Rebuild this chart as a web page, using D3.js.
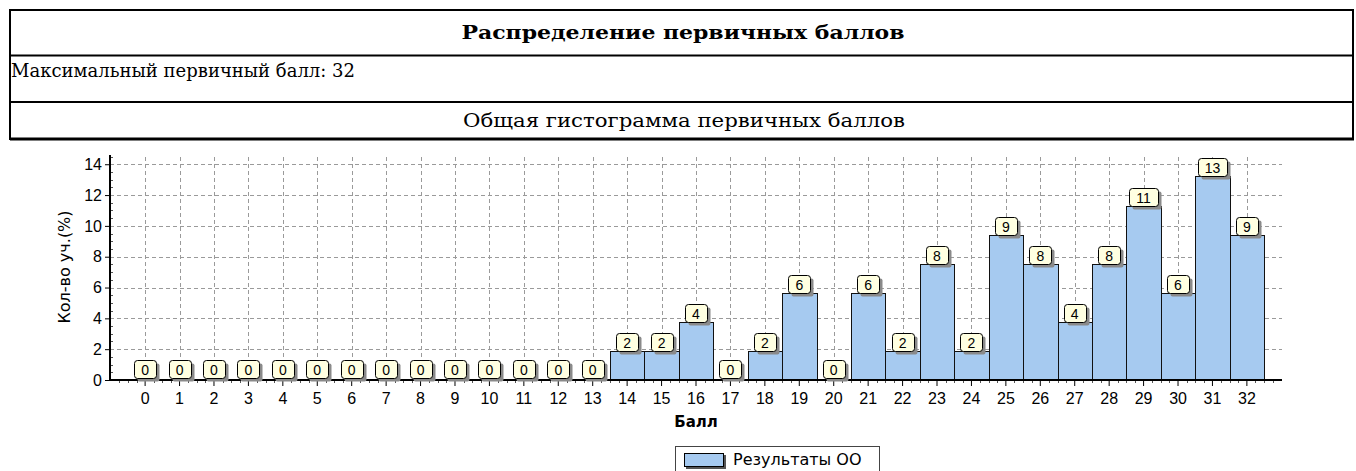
<!DOCTYPE html>
<html>
  <head>
    <meta charset="utf-8">
    <script src="https://cdn.jsdelivr.net/npm/d3@7"></script>
    <style type="text/css">
      body { margin: 0; background: #fff; }
      .hdr { font-family: "DejaVu Serif", serif; fill: #000; }
      .tick-lbl { font-family: "Liberation Sans", Arial, sans-serif; font-size: 16px; fill: #000; }
      .grid line { stroke: #9a9a9a; stroke-dasharray: 4,3; shape-rendering: crispEdges; }
      .bar { fill: #A6CAF0; stroke: #111; stroke-width: 1; shape-rendering: crispEdges; }
    </style>
  </head>
  <body>
    <div class="plot_canvas"></div>
    <script>

      // data
      var scores = ["0","1","2","3","4","5","6","7","8","9","10","11","12","13","14","15","16",
                    "17","18","19","20","21","22","23","24","25","26","27","28","29","30","31","32"];
      var percents = [0,0,0,0,0,0,0,0,0,0,0,0,0,0,
                      1.89,1.89,3.77,0,1.89,5.66,0,5.66,1.89,7.55,1.89,
                      9.43,7.55,3.77,7.55,11.32,5.66,13.21,9.43];
      var yTickValues = [0,2,4,6,8,10,12,14];
      var titleText = "Распределение первичных баллов";
      var maxText = "Максимальный первичный балл: 32";
      var subText = "Общая гистограмма первичных баллов";
      var yLabel = "Кол-во уч.(%)";
      var xLabel = "Балл";
      var legendText = "Результаты ОО";

      var width = 1356, height = 471;
      var plot = {left: 110, right: 1282, top: 155, bottom: 380};

      var svg = d3.select(".plot_canvas").append("svg")
      .attr("width", width)
      .attr("height", height);

      // header table
      var tbl = svg.append("g");
      var tx0 = 10, tx1 = 1353, rows = [10, 55.5, 102, 139];
      tbl.append("rect")
      .attr("x", tx0).attr("y", rows[0])
      .attr("width", tx1 - tx0).attr("height", rows[3] - rows[0])
      .attr("fill", "none").attr("stroke", "#000").attr("stroke-width", 2);
      tbl.selectAll("line.sep")
      .data([rows[1], rows[2]]).enter()
      .append("line")
      .attr("x1", tx0).attr("x2", tx1)
      .attr("y1", function(d){ return d; }).attr("y2", function(d){ return d; })
      .attr("stroke", "#000").attr("stroke-width", 2);
      tbl.append("line")
      .attr("x1", tx0).attr("x2", tx1 + 1).attr("y1", rows[3]).attr("y2", rows[3])
      .attr("stroke", "#000").attr("stroke-width", 3);

      // header texts: stretched to the widths seen in the picture
      tbl.append("text").attr("class", "hdr")
      .attr("x", 683).attr("y", 39)
      .attr("text-anchor", "middle")
      .attr("font-size", "18px").attr("font-weight", "bold")
      .attr("textLength", 443).attr("lengthAdjust", "spacingAndGlyphs")
      .text(titleText);
      tbl.append("text").attr("class", "hdr")
      .attr("x", 11).attr("y", 77)
      .attr("font-size", "18px")
      .attr("textLength", 344).attr("lengthAdjust", "spacingAndGlyphs")
      .text(maxText);
      tbl.append("text").attr("class", "hdr")
      .attr("x", 684).attr("y", 127)
      .attr("text-anchor", "middle")
      .attr("font-size", "18px")
      .attr("textLength", 442).attr("lengthAdjust", "spacingAndGlyphs")
      .text(subText);

      // scales
      var xScale = d3.scaleBand()
      .domain(scores)
      .range([plot.left, plot.right])
      .paddingInner(0)
      .paddingOuter(0.52);
      var bw = xScale.bandwidth();
      var xCenter = function(d) { return xScale(d) + bw / 2; };

      var yScale = d3.scaleLinear()
      .domain([0, 14.6])
      .range([plot.bottom, plot.top]);

      // continuous helper for minor ticks along x
      var xLin = d3.scaleLinear()
      .domain([0, scores.length - 1])
      .range([xCenter(scores[0]), xCenter(scores[scores.length - 1])]);

      // grid
      var grid = svg.append("g").attr("class", "grid");
      grid.selectAll("line.h")
      .data(yTickValues.slice(1)).enter()
      .append("line")
      .attr("x1", plot.left).attr("x2", plot.right)
      .attr("y1", function(d){ return Math.round(yScale(d)) + 0.5; })
      .attr("y2", function(d){ return Math.round(yScale(d)) + 0.5; });
      grid.selectAll("line.v")
      .data(scores).enter()
      .append("line")
      .attr("x1", function(d){ return Math.round(xCenter(d)) + 0.5; })
      .attr("x2", function(d){ return Math.round(xCenter(d)) + 0.5; })
      .attr("y1", plot.top + 2).attr("y2", plot.bottom);

      // bars
      var bars = svg.append("g");
      percents.forEach(function(v, i) {
        if (v <= 0) return;
        bars.append("rect")
        .attr("class", "bar")
        .attr("x", Math.round(xScale(scores[i])) + 0.5)
        .attr("y", Math.round(yScale(v)) + 0.5)
        .attr("width", Math.round(xScale(scores[i]) + bw) - Math.round(xScale(scores[i])))
        .attr("height", Math.round(yScale(0)) - Math.round(yScale(v)));
      });

      // axes
      var ax = svg.append("g");
      ax.append("line")
      .attr("x1", plot.left).attr("x2", plot.left)
      .attr("y1", plot.top).attr("y2", plot.bottom + 1)
      .attr("stroke", "#000").attr("stroke-width", 2);
      ax.append("line")
      .attr("x1", plot.left).attr("x2", plot.right)
      .attr("y1", plot.bottom).attr("y2", plot.bottom)
      .attr("stroke", "#000").attr("stroke-width", 2);

      var yAxis = d3.axisLeft(yScale)
      .tickValues(yTickValues)
      .tickSize(4)
      .tickPadding(3);
      var yg = svg.append("g")
      .attr("transform", "translate(" + (plot.left - 1) + ",0)")
      .call(yAxis);
      yg.select(".domain").remove();
      yg.selectAll("text").attr("class", "tick-lbl");
      yg.attr("font-size", null).attr("font-family", null);

      // y minor ticks (every 0.5)
      svg.append("g").selectAll("line")
      .data(d3.range(0.5, 14.6, 0.5).filter(function(d){ return d % 2 !== 0; })).enter()
      .append("line")
      .attr("x1", plot.left + 1).attr("x2", plot.left + 3)
      .attr("y1", function(d){ return Math.round(yScale(d)) + 0.5; })
      .attr("y2", function(d){ return Math.round(yScale(d)) + 0.5; })
      .attr("stroke", "#555");

      var xAxis = d3.axisBottom(xScale)
      .tickSize(5)
      .tickPadding(7);
      var xg = svg.append("g")
      .attr("transform", "translate(0," + (plot.bottom + 1) + ")")
      .call(xAxis);
      xg.select(".domain").remove();
      xg.selectAll("text").attr("class", "tick-lbl");
      xg.attr("font-size", null).attr("font-family", null);

      // x minor ticks (quarters)
      svg.append("g").selectAll("line")
      .data(d3.range(-0.75, 33, 0.25).filter(function(d){
        return d % 1 !== 0 && xLin(d) > plot.left + 3 && xLin(d) < plot.right;
      })).enter()
      .append("line")
      .attr("x1", function(d){ return Math.round(xLin(d)) + 0.5; })
      .attr("x2", function(d){ return Math.round(xLin(d)) + 0.5; })
      .attr("y1", plot.bottom + 1).attr("y2", plot.bottom + 3)
      .attr("stroke", "#555");

      // axis titles
      svg.append("text")
      .attr("transform", "translate(70,267) rotate(-90)")
      .attr("text-anchor", "middle")
      .style("font-family", "'DejaVu Sans', sans-serif")
      .style("font-size", "16px")
      .text(yLabel);
      svg.append("text")
      .attr("x", xCenter("16")).attr("y", 427)
      .attr("text-anchor", "middle")
      .style("font-family", "'DejaVu Sans', sans-serif")
      .style("font-size", "15px")
      .style("font-weight", "bold")
      .text(xLabel);

      // value labels
      var fmt = d3.format(".0f");
      var lbls = svg.append("g");
      percents.forEach(function(v, i) {
        var s = fmt(v);
        var w = s.length > 1 ? 29 : 22, h = 18;
        var cx = xCenter(scores[i]);
        var yb = Math.round(yScale(v)) - (v > 0 ? 0 : 2);
        var x0 = Math.round(cx - w / 2) + 0.5, y0 = yb - h + 0.5;
        lbls.append("rect")
        .attr("x", x0 + 3).attr("y", y0 + 3)
        .attr("width", w).attr("height", h)
        .attr("rx", 2)
        .attr("fill", "#8a8a8a");
        lbls.append("rect")
        .attr("x", x0).attr("y", y0)
        .attr("width", w).attr("height", h)
        .attr("rx", 3)
        .attr("fill", "#FFFFE1")
        .attr("stroke", "#000");
        lbls.append("text")
        .attr("x", cx).attr("y", y0 + 14)
        .attr("text-anchor", "middle")
        .style("font-family", "'Liberation Sans', Arial, sans-serif")
        .style("font-size", "14px")
        .text(s);
      });

      // legend
      var lg = svg.append("g");
      lg.append("rect")
      .attr("x", 675.5).attr("y", 446.5)
      .attr("width", 204).attr("height", 32)
      .attr("fill", "#fff").attr("stroke", "#444");
      lg.append("rect")
      .attr("x", 686).attr("y", 455)
      .attr("width", 40).attr("height", 14)
      .attr("fill", "#555");
      lg.append("rect")
      .attr("x", 684.5).attr("y", 453.5)
      .attr("width", 39).attr("height", 13)
      .attr("fill", "#A6CAF0").attr("stroke", "#000");
      lg.append("text")
      .attr("x", 733).attr("y", 465)
      .style("font-family", "'DejaVu Sans', sans-serif")
      .style("font-size", "16px")
      .text(legendText);

    </script>
  </body>
</html>
